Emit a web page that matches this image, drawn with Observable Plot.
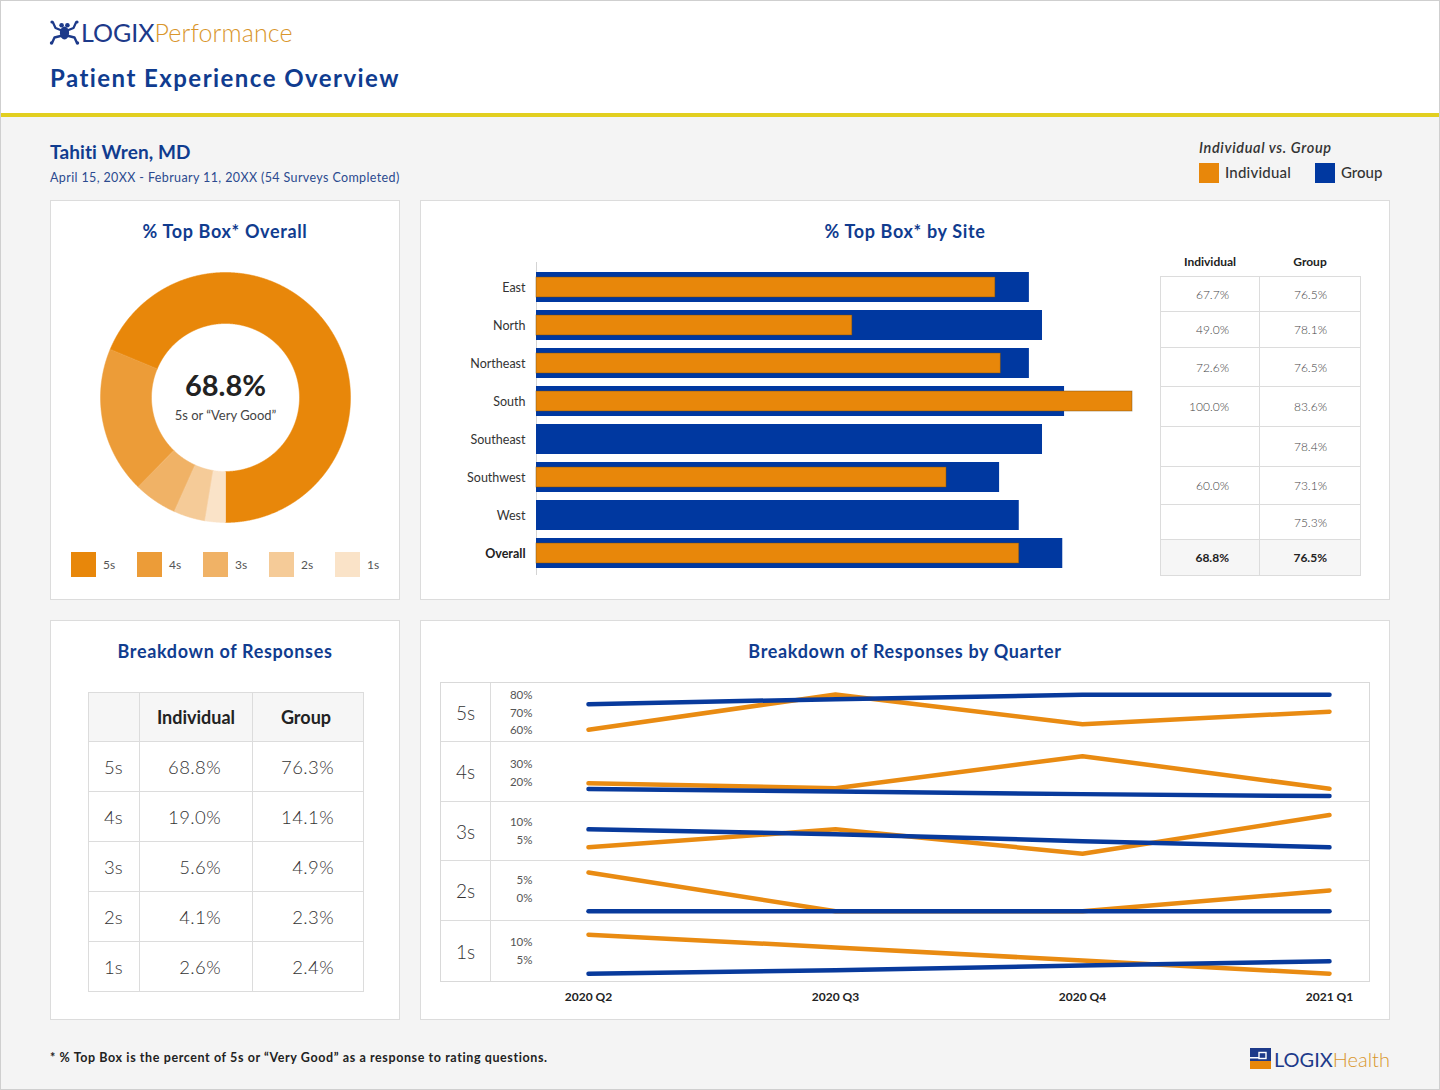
<!DOCTYPE html>
<html>
<head>
<meta charset="utf-8">
<script src="https://cdn.jsdelivr.net/npm/d3@7"></script>
<script src="https://cdn.jsdelivr.net/npm/@observablehq/plot@0.6"></script>
<style>
html,body{margin:0;padding:0;}
body{width:1440px;height:1090px;position:relative;background:#f4f4f4;font-family:Lato,"Open Sans",sans-serif;overflow:hidden;}
.abs{position:absolute;line-height:1;white-space:nowrap;}
#header{position:absolute;left:0;top:0;width:1440px;height:113px;background:#fff;border-bottom:4px solid #e2cf1f;}
#frame{position:absolute;left:0;top:0;width:1440px;height:1090px;box-sizing:border-box;border:1px solid #cfcfcf;z-index:20;pointer-events:none;}
.panel{position:absolute;background:#fff;border:1px solid #dcdcdc;box-sizing:border-box;}
.ptitle{position:absolute;font-weight:700;font-size:18px;letter-spacing:0.65px;color:#103c8f;line-height:1;white-space:nowrap;transform:translateX(-50%);}
.wrap{position:absolute;}
.wrap svg{display:block;overflow:visible;}
.sw{position:absolute;width:25px;height:25px;}
.swl{position:absolute;font-size:12px;color:#555;line-height:1;}
</style>
</head>
<body>
<div id="header"></div>
<div id="frame"></div>

<!-- logo -->
<svg class="abs" style="left:49px;top:19px" width="31" height="26" viewBox="0 0 31 26">
  <g fill="#1d3a8a" stroke="#1d3a8a" stroke-linecap="round" stroke-linejoin="round">
    <ellipse cx="15.5" cy="14" rx="4.6" ry="6.5" stroke="none"/>
    <circle cx="12.6" cy="6.2" r="2.3" stroke="none"/>
    <circle cx="18.4" cy="6.2" r="2.3" stroke="none"/>
    <path d="M11.5 11 L6.5 9 L4 3.5" fill="none" stroke-width="2.2"/>
    <path d="M19.5 11 L24.5 9 L27 3.5" fill="none" stroke-width="2.2"/>
    <path d="M11.5 17 L5.5 18.5 L3 24" fill="none" stroke-width="2.4"/>
    <path d="M19.5 17 L25.5 18.5 L28 24" fill="none" stroke-width="2.4"/>
    <circle cx="3" cy="3" r="1.6" stroke="none"/><circle cx="28" cy="3" r="1.6" stroke="none"/>
    <circle cx="2.5" cy="24" r="1.7" stroke="none"/><circle cx="28.5" cy="24" r="1.7" stroke="none"/>
  </g>
</svg>
<div class="abs" style="left:81px;top:20px;font-size:25px;"><span style="color:#1d3a8a;">LOGIX</span><span style="color:#d9962c;font-weight:300;letter-spacing:0.1px;">Performance</span></div>
<div class="abs" style="left:50px;top:66px;font-size:24px;font-weight:700;color:#103c8f;letter-spacing:1.45px;">Patient Experience Overview</div>

<div class="abs" style="left:50px;top:142px;font-size:19px;font-weight:700;color:#103c8f;letter-spacing:0.1px;">Tahiti Wren, MD</div>
<div class="abs" style="left:50px;top:172px;font-size:12.5px;color:#2b4a8f;letter-spacing:0.38px;">April 15, 20XX - February 11, 20XX (54 Surveys Completed)</div>

<div class="abs" style="left:1199px;top:141px;font-size:14.5px;font-style:italic;font-weight:600;color:#333;letter-spacing:0.65px;">Individual vs. Group</div>
<div class="abs" style="left:1199px;top:163px;width:20px;height:20px;background:#e8870a;"></div>
<div class="abs" style="left:1225px;top:165px;font-size:15px;font-weight:500;color:#333;letter-spacing:0.2px;">Individual</div>
<div class="abs" style="left:1315px;top:163px;width:20px;height:20px;background:#0038a0;"></div>
<div class="abs" style="left:1341px;top:165px;font-size:15px;font-weight:500;color:#333;">Group</div>

<div class="panel" style="left:50px;top:200px;width:350px;height:400px;"></div>
<div class="panel" style="left:420px;top:200px;width:970px;height:400px;"></div>
<div class="panel" style="left:50px;top:620px;width:350px;height:400px;"></div>
<div class="panel" style="left:420px;top:620px;width:970px;height:400px;"></div>

<div class="ptitle" style="left:225px;top:222px;">% Top Box* Overall</div>
<div class="ptitle" style="left:905px;top:222px;">% Top Box* by Site</div>
<div class="ptitle" style="left:225px;top:642px;">Breakdown of Responses</div>
<div class="ptitle" style="left:905px;top:642px;">Breakdown of Responses by Quarter</div>

<div id="donut" class="wrap" style="left:100px;top:272px;width:250px;height:250px;"></div>
<div id="donutLegend"></div>
<div id="bars" class="wrap" style="left:420px;top:250px;width:740px;height:340px;"></div>
<div class="abs" style="left:1160px;top:256px;width:100px;text-align:center;font-size:12px;font-weight:700;color:#222;">Individual</div>
<div class="abs" style="left:1260px;top:256px;width:100px;text-align:center;font-size:12px;font-weight:700;color:#222;">Group</div>
<div id="siteTable" style="position:absolute;left:1160px;top:276px;width:201px;border:1px solid #dcdcdc;box-sizing:border-box;border-bottom:none;"></div>

<div id="breakTable"></div>

<div id="qbox" style="position:absolute;left:440px;top:682px;width:930px;height:300px;box-sizing:border-box;border:1px solid #d9d9d9;"></div>
<div id="qaxis" class="wrap" style="left:491px;top:982px;width:878px;height:30px;"></div>

<div class="abs" style="left:50px;top:1052px;font-size:12.5px;font-weight:700;color:#222;letter-spacing:0.6px;">* % Top Box is the percent of 5s or “Very Good” as a response to rating questions.</div>
<svg class="abs" style="left:1250px;top:1048px" width="21" height="21" viewBox="0 0 21 21">
  <rect x="0" y="0" width="21" height="13" fill="#1d3a8a"/>
  <rect x="0" y="13" width="21" height="8" fill="#e8870a"/>
  <rect x="9" y="4.5" width="7" height="6" fill="none" stroke="#fff" stroke-width="1.4"/>
  <rect x="0" y="9" width="9" height="1.5" fill="#fff"/>
</svg>
<div class="abs" style="left:1274px;top:1049px;font-size:20px;"><span style="color:#1d3a8a;">LOGIX</span><span style="color:#d9962c;font-weight:300;">Health</span></div>

<script>
// ---------------- data ----------------
const ratingLabels = ["5s", "4s", "3s", "2s", "1s"];
const ratingColors = ["#e8870a", "#ec9c38", "#f0b266", "#f5cb98", "#fae3c8"];
const individualShare = [68.8, 19.0, 5.6, 4.1, 2.6];
const groupShare = [76.3, 14.1, 4.9, 2.3, 2.4];
const topBoxCaption = "5s or “Very Good”";

const sites = ["East", "North", "Northeast", "South", "Southeast", "Southwest", "West", "Overall"];
const siteGroupBar = [82.7, 84.9, 82.7, 88.6, 84.9, 77.7, 81.0, 88.3];
const siteIndividualBar = [77.0, 53.0, 77.9, 100.0, null, 68.8, null, 81.0];
const siteIndividualText = ["67.7%", "49.0%", "72.6%", "100.0%", "", "60.0%", "", "68.8%"];
const siteGroupText = ["76.5%", "78.1%", "76.5%", "83.6%", "78.4%", "73.1%", "75.3%", "76.5%"];

const quarters = ["2020 Q2", "2020 Q3", "2020 Q4", "2021 Q1"];
const qIndividual5s = [60.6, 80.6, 63.7, 70.8];
const qGroup5s = [75.1, 77.9, 80.4, 80.4];
const qIndividual4s = [19.6, 16.8, 34.6, 16.5];
const qGroup4s = [16.3, 15.0, 13.5, 12.4];
const qIndividual3s = [3.1, 8.1, 1.3, 12.1];
const qGroup3s = [8.1, 6.75, 4.8, 3.1];
const qIndividual2s = [10.6, 0.0, 0.0, 5.7];
const qGroup2s = [0.0, 0.0, 0.0, 0.0];
const qIndividual1s = [12.2, 8.6, 4.9, 1.2];
const qGroup1s = [1.2, 2.2, 3.5, 4.7];
const qTicks5s = [60, 70, 80], qTicks4s = [20, 30], qTicks3s = [5, 10], qTicks2s = [0, 5], qTicks1s = [5, 10];

// ---------------- styles ----------------
const ORANGE = "#e8870a", BLUE = "#0038a0";
const LINE_ORANGE = "#e98b12", LINE_BLUE = "#083a9c";
const baseStyle = {background: "transparent", maxWidth: "none", overflow: "visible", fontFamily: "Lato, sans-serif", fontSize: "12px", color: "#333"};

// ---------------- donut ----------------
const arcs = d3.pie().sort(null).startAngle(Math.PI).endAngle(-Math.PI)(individualShare);
const innerR = 74 / 125;
const slicePts = [];
arcs.forEach((a, i) => {
  const n = Math.max(8, Math.ceil(Math.abs(a.endAngle - a.startAngle) / 0.005));
  for (let k = 0; k <= n; k++) {
    const t = a.startAngle + (a.endAngle - a.startAngle) * k / n;
    slicePts.push({rating: ratingLabels[i], x: Math.sin(t), y: Math.cos(t)});
  }
  for (let k = n; k >= 0; k--) {
    const t = a.startAngle + (a.endAngle - a.startAngle) * k / n;
    slicePts.push({rating: ratingLabels[i], x: innerR * Math.sin(t), y: innerR * Math.cos(t)});
  }
});
const donut = Plot.plot({
  width: 250, height: 250, margin: 0,
  x: {domain: [-1, 1], axis: null},
  y: {domain: [-1, 1], axis: null},
  color: {domain: ratingLabels, range: ratingColors},
  style: baseStyle,
  marks: [
    Plot.line(slicePts, {x: "x", y: "y", z: "rating", fill: "rating", stroke: "rating", strokeWidth: 0.5, curve: "linear-closed"}),
    Plot.text([individualShare[0]], {x: 0, y: 0.09, text: d => d.toFixed(1) + "%", fontSize: 29, fontWeight: "bold", fill: "#222"}),
    Plot.text([topBoxCaption], {x: 0, y: -0.15, text: d => d, fontSize: 13, fill: "#444"})
  ]
});
document.getElementById("donut").appendChild(donut);

// donut legend
const dl = document.getElementById("donutLegend");
ratingLabels.forEach((lab, i) => {
  const s = document.createElement("div");
  s.className = "sw";
  s.style.left = (71 + 66 * i) + "px"; s.style.top = "552px"; s.style.background = ratingColors[i];
  dl.appendChild(s);
  const t = document.createElement("div");
  t.className = "swl";
  t.style.left = (103 + 66 * i) + "px"; t.style.top = "559px";
  t.textContent = lab;
  dl.appendChild(t);
});

// ---------------- bars by site ----------------
const siteRows = sites.map((s, i) => ({site: s, group: siteGroupBar[i], individual: siteIndividualBar[i]}));
const bars = Plot.plot({
  width: 740, height: 340, marginTop: 12, marginBottom: 15, marginLeft: 116, marginRight: 28,
  x: {domain: [0, 100], range: [116, 712], axis: null},
  y: {domain: sites, range: [18, 322], padding: 0, axis: null},
  style: baseStyle,
  marks: [
    Plot.ruleX([0], {stroke: "#d4d4d4"}),
    Plot.barX(siteRows, {x: "group", y: "site", fill: BLUE, insetTop: 4, insetBottom: 4}),
    Plot.barX(siteRows.filter(d => d.individual != null), {x: "individual", y: "site", fill: ORANGE, insetTop: 9, insetBottom: 9, stroke: "#6e4a14", strokeOpacity: 0.55, strokeWidth: 0.8}),
    Plot.text(sites.filter(s => s !== "Overall"), {x: 0, y: d => d, dx: -11, textAnchor: "end", fontSize: 12.5, fill: "#333"}),
    Plot.text(sites.filter(s => s === "Overall"), {x: 0, y: d => d, dx: -11, textAnchor: "end", fontSize: 12.5, fontWeight: "bold", fill: "#222"})
  ]
});
document.getElementById("bars").appendChild(bars);

// site table
const siteRowHeights = [35, 36, 39, 40, 40, 38, 35, 36];
const st = document.getElementById("siteTable");
sites.forEach((s, i) => {
  const overall = s === "Overall";
  const r = document.createElement("div");
  r.style.cssText = `display:flex;height:${siteRowHeights[i] - 1}px;border-bottom:1px solid #dcdcdc;${overall ? "background:#f6f6f6;" : ""}`;
  const c1 = document.createElement("div");
  c1.style.cssText = `width:99px;border-right:1px solid #dcdcdc;display:flex;align-items:center;justify-content:flex-end;padding-right:30px;box-sizing:border-box;font-size:12px;color:${overall ? "#222" : "#444"};font-weight:${overall ? 700 : 300};`;
  c1.textContent = siteIndividualText[i];
  const c2 = document.createElement("div");
  c2.style.cssText = `width:100px;display:flex;align-items:center;justify-content:flex-end;padding-right:33px;box-sizing:border-box;font-size:12px;color:${overall ? "#222" : "#444"};font-weight:${overall ? 700 : 300};`;
  c2.textContent = siteGroupText[i];
  r.appendChild(c1); r.appendChild(c2);
  st.appendChild(r);
});

// ---------------- breakdown table ----------------
const bt = document.createElement("table");
bt.style.cssText = "position:absolute;left:88px;top:692px;border-collapse:collapse;table-layout:fixed;width:275px;font-family:Lato,sans-serif;";
const colW = [51, 113, 111];
const cg = document.createElement("colgroup");
colW.forEach(w => { const c = document.createElement("col"); c.style.width = w + "px"; cg.appendChild(c); });
bt.appendChild(cg);
const cellBorder = "border:1px solid #dcdcdc;";
const hr = document.createElement("tr");
hr.style.height = "49px";
["", "Individual", "Group"].forEach((h, j) => {
  const th = document.createElement("td");
  th.style.cssText = cellBorder + "background:#f6f6f6;font-size:18px;font-weight:700;color:#222;text-align:center;padding:0;" + (j === 2 ? "padding-right:4px;" : "");
  th.textContent = h;
  hr.appendChild(th);
});
bt.appendChild(hr);
ratingLabels.forEach((lab, i) => {
  const tr = document.createElement("tr");
  tr.style.height = "50px";
  const a = document.createElement("td");
  a.style.cssText = cellBorder + "font-size:18.5px;color:#333;font-weight:300;padding:0 0 0 15px;";
  a.textContent = lab;
  const b = document.createElement("td");
  b.style.cssText = cellBorder + "font-size:18.5px;color:#333;font-weight:300;text-align:right;padding:0 31px 0 0;letter-spacing:0.4px;";
  b.textContent = individualShare[i].toFixed(1) + "%";
  const c = document.createElement("td");
  c.style.cssText = cellBorder + "font-size:18.5px;color:#333;font-weight:300;text-align:right;padding:0 29px 0 0;letter-spacing:0.4px;";
  c.textContent = groupShare[i].toFixed(1) + "%";
  tr.appendChild(a); tr.appendChild(b); tr.appendChild(c);
  bt.appendChild(tr);
});
document.getElementById("breakTable").appendChild(bt);

// ---------------- responses by quarter ----------------
const qRows = [
  {h: 58, domain: [53.9, 86.8], ind: qIndividual5s, grp: qGroup5s, ticks: qTicks5s, dy: 0},
  {h: 59, domain: [9.4, 42.2], ind: qIndividual4s, grp: qGroup4s, ticks: qTicks4s, dy: 0},
  {h: 58, domain: [-0.6, 15.6], ind: qIndividual3s, grp: qGroup3s, ticks: qTicks3s, dy: 0},
  {h: 59, domain: [-2.5, 13.6], ind: qIndividual2s, grp: qGroup2s, ticks: qTicks2s, dy: -12.7},
  {h: 60, domain: [-1.0, 15.9], ind: qIndividual1s, grp: qGroup1s, ticks: qTicks1s, dy: 0}
];
const qbox = document.getElementById("qbox");
qRows.forEach((cfg, i) => {
  const row = document.createElement("div");
  row.style.cssText = `display:flex;height:${cfg.h}px;${i < qRows.length - 1 ? "border-bottom:1px solid #dcdcdc;" : ""}`;
  const lab = document.createElement("div");
  lab.style.cssText = "width:49px;flex:none;border-right:1px solid #dcdcdc;display:flex;align-items:center;justify-content:center;font-size:19px;color:#333;font-weight:300;";
  lab.textContent = ratingLabels[i];
  row.appendChild(lab);
  const indData = quarters.map((q, j) => ({q, v: cfg.ind[j]}));
  const grpData = quarters.map((q, j) => ({q, v: cfg.grp[j]}));
  const p = Plot.plot({
    width: 878, height: cfg.h, marginLeft: 44, marginRight: 0, marginTop: 0, marginBottom: 0,
    x: {type: "point", domain: quarters, range: [96, 838], padding: 0, axis: null},
    y: {domain: cfg.domain, range: [cfg.h, 0], axis: null},
    style: {...baseStyle, fontSize: "11.5px", color: "#555"},
    marks: [
      Plot.axisY({ticks: cfg.ticks, tickSize: 0, tickPadding: 3, tickFormat: d => d + "%", dy: cfg.dy, label: null}),
      Plot.line(indData, {x: "q", y: "v", stroke: LINE_ORANGE, strokeWidth: 4.5}),
      Plot.line(grpData, {x: "q", y: "v", stroke: LINE_BLUE, strokeWidth: 4.5})
    ]
  });
  p.style.flex = "none";
  row.appendChild(p);
  qbox.appendChild(row);
});
const qaxis = Plot.plot({
  width: 878, height: 30, margin: 0,
  x: {type: "point", domain: quarters, range: [96, 838], padding: 0, axis: null},
  style: {...baseStyle, fontSize: "12px"},
  marks: [
    Plot.text(quarters, {x: d => d, frameAnchor: "middle", fontWeight: "bold", fill: "#222"})
  ]
});
document.getElementById("qaxis").appendChild(qaxis);
</script>
</body>
</html>
